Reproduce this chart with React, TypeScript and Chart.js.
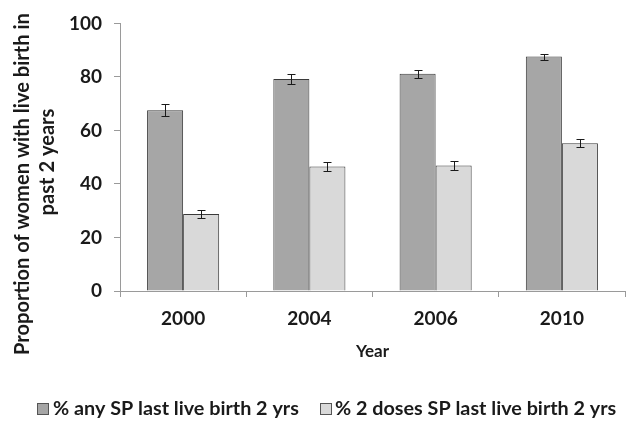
import React, { useEffect, useRef } from "react";
import { Chart, registerables } from "chart.js";

Chart.register(...registerables);

const categories = ["2000", "2004", "2006", "2010"];
const anySP = [67.5, 79.2, 81.2, 87.6];
const anySPErr = [2.2, 2.0, 1.5, 1.1];
const twoDoses = [28.8, 46.5, 46.9, 55.2];
const twoDosesErr = [1.5, 1.7, 1.5, 1.5];
const seriesLabels = ["% any SP last live birth 2 yrs", "% 2 doses SP last live birth 2 yrs"];
const yTitleLines = ["Proportion of women with live birth in", "past 2 years"];
const xTitle = "Year";

const FONT = "Lato, 'Open Sans', sans-serif";
const DARK = "#a6a6a6";
const LIGHT = "#d9d9d9";
const EDGE = "#3a3a3a";
const AXIS = "#9a9a9a";
const TEXT = "#1a1a1a";

const errors = [anySPErr, twoDosesErr];

function fitSize(ctx: CanvasRenderingContext2D, text: string, target: number, base: number) {
  ctx.font = `bold ${base}px ${FONT}`;
  const w = ctx.measureText(text).width;
  return (base * target) / w;
}

const errorBarPlugin = {
  id: "errorBars",
  afterDatasetsDraw(chart: any) {
    const ctx = chart.ctx;
    const y = chart.scales.y;
    ctx.save();
    ctx.strokeStyle = "#1a1a1a";
    ctx.lineWidth = 1;
    chart.data.datasets.forEach((ds: any, i: number) => {
      const meta = chart.getDatasetMeta(i);
      meta.data.forEach((bar: any, j: number) => {
        const v = ds.data[j];
        const e = errors[i][j];
        const x = Math.round(bar.x) + 0.5;
        const yt = Math.round(y.getPixelForValue(v + e)) + 0.5;
        const yb = Math.round(y.getPixelForValue(v - e)) + 0.5;
        ctx.beginPath();
        ctx.moveTo(x, yt);
        ctx.lineTo(x, yb);
        ctx.moveTo(x - 4, yt);
        ctx.lineTo(x + 4, yt);
        ctx.moveTo(x - 4, yb);
        ctx.lineTo(x + 4, yb);
        ctx.stroke();
      });
    });
    ctx.restore();
  },
};

const decorPlugin = {
  id: "decor",
  afterDraw(chart: any) {
    const ctx = chart.ctx;
    ctx.save();
    // y title
    ctx.fillStyle = TEXT;
    const tSize = fitSize(ctx, yTitleLines[0], 342, 17);
    ctx.font = `bold ${tSize}px ${FONT}`;
    ctx.textAlign = "center";
    ctx.textBaseline = "middle";
    const pos = [
      [23, 184],
      [48, 162],
    ];
    yTitleLines.forEach((t, i) => {
      ctx.save();
      ctx.translate(pos[i][0], pos[i][1]);
      ctx.rotate(-Math.PI / 2);
      ctx.fillText(t, 0, 0);
      ctx.restore();
    });
    // legend
    const lSize = fitSize(ctx, seriesLabels[0], 246, 16);
    ctx.font = `bold ${lSize}px ${FONT}`;
    ctx.textAlign = "left";
    ctx.textBaseline = "middle";
    const items = [
      { box: 37, text: 53, color: DARK },
      { box: 320, text: 335, color: LIGHT },
    ];
    items.forEach((it, i) => {
      ctx.fillStyle = it.color;
      ctx.fillRect(it.box, 403, 12, 12);
      ctx.strokeStyle = "#555";
      ctx.lineWidth = 1;
      ctx.strokeRect(it.box + 0.5, 403.5, 11, 11);
      ctx.fillStyle = TEXT;
      ctx.fillText(seriesLabels[i], it.text, 409);
    });
    ctx.restore();
  },
};

export default function App() {
  const ref = useRef<HTMLCanvasElement | null>(null);
  useEffect(() => {
    if (!ref.current) return;
    const chart = new Chart(ref.current, {
      type: "bar",
      data: {
        labels: categories,
        datasets: [
          {
            label: seriesLabels[0],
            data: anySP,
            backgroundColor: DARK,
            borderColor: EDGE,
            borderWidth: 1,
            categoryPercentage: 0.571,
            barPercentage: 1.0,
          },
          {
            label: seriesLabels[1],
            data: twoDoses,
            backgroundColor: LIGHT,
            borderColor: EDGE,
            borderWidth: 1,
            categoryPercentage: 0.571,
            barPercentage: 1.0,
          },
        ],
      },
      options: {
        responsive: false,
        animation: false,
        devicePixelRatio: 1,
        layout: { padding: { top: 17, right: 14, bottom: 32, left: 0 } },
        plugins: {
          legend: { display: false },
          tooltip: { enabled: false },
        },
        scales: {
          y: {
            min: 0,
            max: 100,
            ticks: {
              stepSize: 20,
              padding: 12,
              color: TEXT,
              font: { family: FONT, size: 19, weight: "bold" },
            },
            grid: { drawOnChartArea: false, tickLength: 6, color: AXIS },
            border: { color: AXIS },
            afterFit(scale: any) {
              scale.width = 120;
            },
          },
          x: {
            ticks: {
              padding: 10,
              color: TEXT,
              font: { family: FONT, size: 19, weight: "bold" },
            },
            grid: { drawOnChartArea: false, tickLength: 6, color: AXIS, offset: true },
            border: { color: AXIS },
            title: {
              display: true,
              text: xTitle,
              color: TEXT,
              font: { family: FONT, size: 17, weight: "bold" },
              padding: { top: 4, bottom: 30 },
            },
            afterFit(scale: any) {
              scale.height = 101;
            },
          },
        },
      },
      plugins: [errorBarPlugin, decorPlugin],
    });
    return () => chart.destroy();
  }, []);
  return (
    <div style={{ position: "absolute", left: 0, top: 0, width: 639, height: 424, background: "#fff" }}>
      <canvas ref={ref} width={639} height={424} />
    </div>
  );
}
